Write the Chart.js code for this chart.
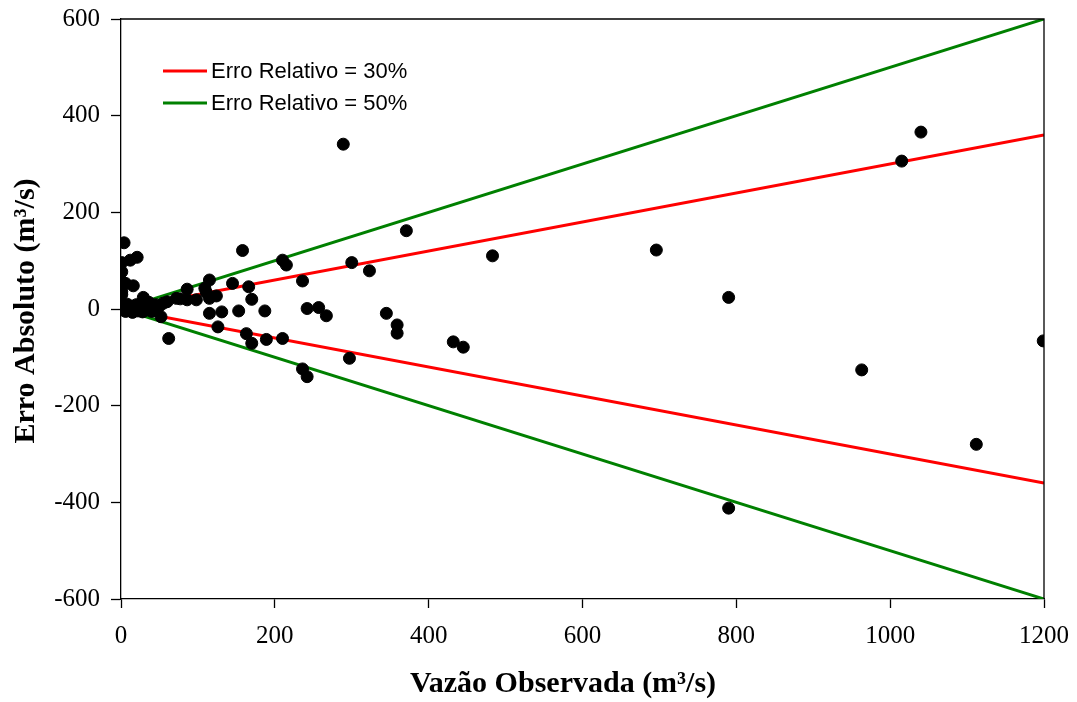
<!DOCTYPE html>
<html>
<head>
<meta charset="utf-8">
<script src="https://cdn.jsdelivr.net/npm/chart.js@4/dist/chart.umd.min.js"></script>
<style>
  html, body { margin: 0; padding: 0; background: #fff; }
  #wrap { width: 1077px; height: 702px; }
</style>
</head>
<body>
<div id="wrap"><canvas id="chart" width="1077" height="702"></canvas></div>
<script>
const vazaoObs = [
  4, 1, 12, 21, 1, 1, 6, 16, 1, 1, 29, 0, 3, 8, 14, 20, 25, 33, 38, 45, 50, 55, 60, 72,
  2, 6, 10, 15, 22, 28, 34, 40, 46, 52, 62, 18, 30, 42, 12, 0, 26, 36,
  86, 115, 109, 111, 115, 124, 145, 166, 170, 236, 86, 98, 77, 115, 131, 153, 187, 242,
  257, 267, 345, 359, 359, 126, 163, 170, 189, 210, 297, 236, 242, 432, 445, 158, 210,
  215, 300, 323, 289, 371, 483, 696, 790, 963, 1015, 1040, 1112, 1199, 790
];
const erroAbs = [
  137, 96, 101, 107, 77, 57, 53, 48, 36, 30, 24, 12, 8, 10, 6, 9, 4, 8, 3, 9, 6, 12, 15, 22,
  -2, -5, -3, -7, -4, -6, -2, -5, -3, -16, -61, 0, 1, 0, -1, 2, 12, 14,
  41, 60, 43, 34, 22, 27, 53, 46, 20, 58, 19, 19, 21, -9, -6, -4, -4, 1,
  3, -14, -9, -33, -50, -37, -51, -71, -63, -61, -102, -124, -140, -68, -79, 121, 101,
  91, 96, 79, 341, 162, 110, 122, 24, -126, 306, 366, -280, -66, -412
];

// relative error envelopes
const limX = [0, 1200];
const erro30Sup = [0, 360];
const erro30Inf = [0, -360];
const erro50Sup = [0, 600];
const erro50Inf = [0, -600];

const xTicks = [0, 200, 400, 600, 800, 1000, 1200];
const yTicks = [-600, -400, -200, 0, 200, 400, 600];

const pts = vazaoObs.map((x, i) => ({ x: x, y: erroAbs[i] }));
const line = ys => limX.map((x, i) => ({ x: x, y: ys[i] }));

const legendItems = [
  { text: "Erro Relativo = 30%", color: "#ff0000" },
  { text: "Erro Relativo = 50%", color: "#008000" }
];

// frame, legend and axis titles drawn like the original
const extras = {
  id: "extras",
  afterDraw(chart) {
    const { ctx, chartArea: a } = chart;
    ctx.save();
    ctx.strokeStyle = "#000";
    ctx.lineWidth = 1.3;
    ctx.beginPath();
    ctx.moveTo(a.left, a.top);
    ctx.lineTo(a.right, a.top);
    ctx.lineTo(a.right, a.bottom);
    ctx.stroke();

    ctx.font = "22px 'Liberation Sans', Arial, sans-serif";
    ctx.textBaseline = "middle";
    ctx.textAlign = "left";
    legendItems.forEach((it, i) => {
      const y = 71 + i * 32;
      ctx.strokeStyle = it.color;
      ctx.lineWidth = 3;
      ctx.beginPath();
      ctx.moveTo(163, y);
      ctx.lineTo(207, y);
      ctx.stroke();
      ctx.fillStyle = "#000";
      ctx.fillText(it.text, 211, y + 1);
    });

    ctx.font = "bold 30px 'Liberation Serif', 'Times New Roman', serif";
    ctx.textAlign = "center";
    ctx.textBaseline = "alphabetic";
    ctx.fillText("Vazão Observada (m³/s)", 563, 692);
    ctx.translate(34, 311);
    ctx.rotate(-Math.PI / 2);
    ctx.fillText("Erro Absoluto (m³/s)", 0, 0);
    ctx.restore();
  }
};

const tickFont = { family: "'Liberation Serif', 'Times New Roman', serif", size: 25 };

new Chart(document.getElementById("chart"), {
  type: "scatter",
  data: {
    datasets: [
      { label: "Observado", data: pts, backgroundColor: "#000", borderColor: "#000",
        pointRadius: 6, pointHoverRadius: 6, order: 0 },
      { label: "Erro Relativo = 30%", data: line(erro30Sup), showLine: true, borderColor: "#ff0000",
        borderWidth: 3, pointRadius: 0, order: 1 },
      { label: "Erro Relativo = 30% (inf)", data: line(erro30Inf), showLine: true, borderColor: "#ff0000",
        borderWidth: 3, pointRadius: 0, order: 1 },
      { label: "Erro Relativo = 50%", data: line(erro50Sup), showLine: true, borderColor: "#008000",
        borderWidth: 3, pointRadius: 0, order: 1 },
      { label: "Erro Relativo = 50% (inf)", data: line(erro50Inf), showLine: true, borderColor: "#008000",
        borderWidth: 3, pointRadius: 0, order: 1 }
    ]
  },
  options: {
    responsive: false,
    animation: false,
    layout: { padding: { top: 19, right: 33, left: 0, bottom: 0 } },
    plugins: { legend: { display: false }, tooltip: { enabled: false } },
    scales: {
      x: {
        type: "linear", min: 0, max: 1200,
        afterBuildTicks: s => { s.ticks = xTicks.map(v => ({ value: v })); },
        afterFit: s => { s.height = 103; s.paddingLeft = 0; s.paddingRight = 0; },
        ticks: { color: "#000", font: tickFont, padding: 13, maxRotation: 0, callback: v => String(v) },
        grid: { drawOnChartArea: false, color: "#000", tickLength: 9, tickWidth: 1.3 },
        border: { color: "#000", width: 1.3 }
      },
      y: {
        type: "linear", min: -600, max: 600,
        afterBuildTicks: s => { s.ticks = yTicks.map(v => ({ value: v })); },
        afterFit: s => { s.width = 121; s.paddingTop = 0; s.paddingBottom = 0; },
        ticks: { color: "#000", font: tickFont, padding: 11, callback: v => String(v) },
        grid: { drawOnChartArea: false, color: "#000", tickLength: 10, tickWidth: 1.3 },
        border: { color: "#000", width: 1.3 }
      }
    }
  },
  plugins: [extras]
});
</script>
</body>
</html>
